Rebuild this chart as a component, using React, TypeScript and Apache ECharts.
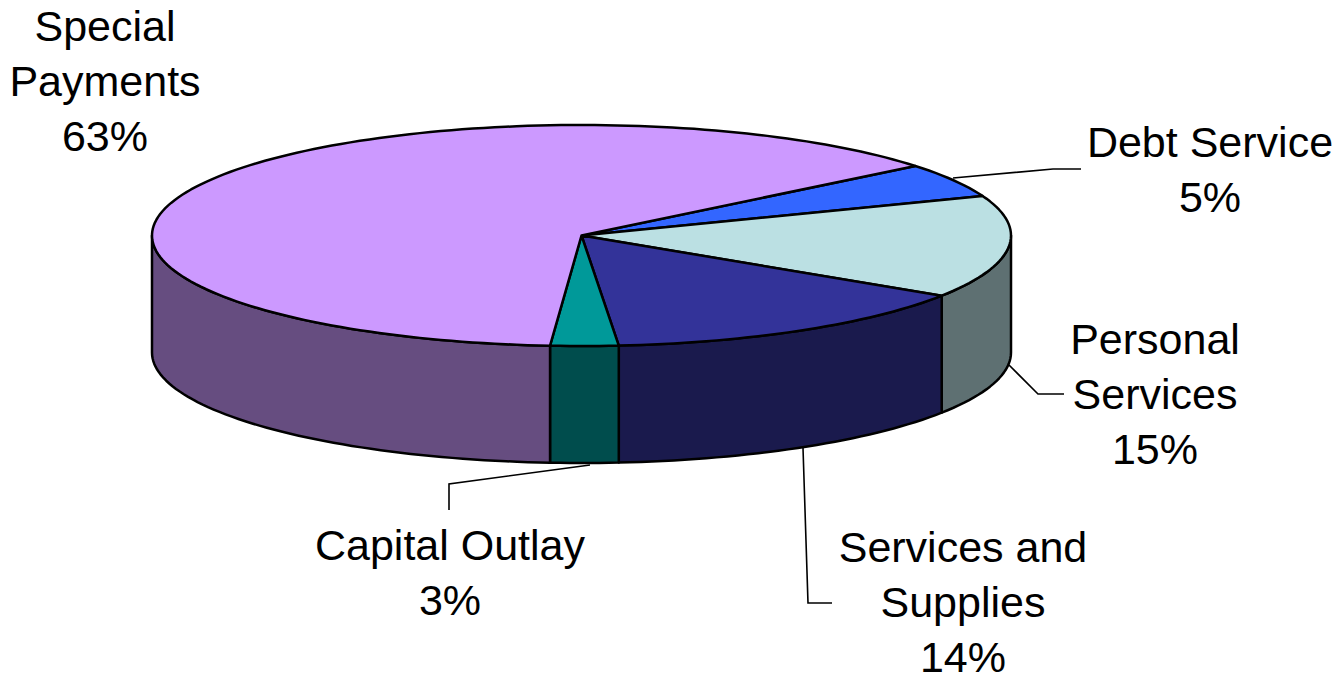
import React, { useEffect, useRef } from "react";
import * as echarts from "echarts";

const categories = ["Debt Service", "Personal Services", "Services and Supplies", "Capital Outlay", "Special Payments"];
const categoryLines = [["Debt Service"], ["Personal", "Services"], ["Services and", "Supplies"], ["Capital Outlay"], ["Special", "Payments"]];
const shares = [5, 15, 14.45, 2.55, 63];
const topColors = ["#3366FF", "#BBE0E3", "#333399", "#009999", "#CC99FF"];
const sideColors = ["#1A3380", "#5E7072", "#1A1A4D", "#004D4D", "#664D80"];

// Layout of the tilted pie
const CX = 581.5, CY = 235.5, RX = 429.5, RY = 110.5, DEPTH = 117, START_DEG = 39;
const labelCenters = [[1210, 142], [1155, 339], [963, 547], [450, 545], [105, 26]];
const LINE_HEIGHT = 55, FONT_SIZE = 43;
const leaderLines = [
  [[953, 178], [1053, 169], [1081, 169]],
  [[1009, 365], [1038, 394], [1064, 394]],
  [[803, 448], [808, 603], [832, 603]],
  [[590, 465], [449, 484], [449, 510]],
];

const rad = (d: number) => (d * Math.PI) / 180;
const pt = (deg: number, dy = 0): number[] => [CX + RX * Math.cos(rad(deg)), CY - RY * Math.sin(rad(deg)) + dy];
const arc = (from: number, to: number, dy = 0): number[][] => {
  const n = Math.max(2, Math.ceil(Math.abs(to - from) / 1.5));
  const out: number[][] = [];
  for (let i = 0; i <= n; i++) out.push(pt(from + ((to - from) * i) / n, dy));
  return out;
};

const total = shares.reduce((a, b) => a + b, 0);
const spans = shares.map((v, i) => {
  const before = shares.slice(0, i).reduce((a, b) => a + b, 0);
  return [START_DEG - (before / total) * 360, START_DEG - ((before + v) / total) * 360];
});

const edge = { stroke: "#000", lineWidth: 2.5, lineJoin: "round" as const };

const renderWall = (params: any) => {
  const i = params.dataIndex;
  const [a, b] = spans[i];
  const ranges = [[-180, 0], [-540, -360]];
  const children: any[] = [];
  ranges.forEach(([lo, hi]) => {
    const to = Math.min(a, hi), from = Math.max(b, lo);
    if (to > from) {
      children.push({
        type: "polygon",
        shape: { points: [...arc(to, from), ...arc(from, to, DEPTH)] },
        style: { fill: sideColors[i], ...edge },
      });
    }
  });
  return { type: "group", children };
};

const renderTop = (params: any) => {
  const i = params.dataIndex;
  const [a, b] = spans[i];
  const lines = [...categoryLines[i], `${Math.round(shares[i])}%`];
  const [lx, ly] = labelCenters[i];
  const children: any[] = [
    {
      type: "polygon",
      shape: { points: [[CX, CY], ...arc(a, b)] },
      style: { fill: topColors[i], ...edge },
    },
    ...lines.map((t, k) => ({
      type: "text",
      style: {
        text: t,
        x: lx,
        y: ly + k * LINE_HEIGHT,
        fill: "#000",
        font: `${FONT_SIZE}px "Liberation Sans", Arial, sans-serif`,
        textAlign: "center",
        textVerticalAlign: "middle",
      },
    })),
  ];
  if (leaderLines[i]) {
    children.push({
      type: "polyline",
      shape: { points: leaderLines[i] },
      style: { fill: "none", stroke: "#000", lineWidth: 1.6 },
    });
  }
  return { type: "group", children };
};

export default function App() {
  const ref = useRef<HTMLDivElement>(null);
  useEffect(() => {
    document.body.style.margin = "0";
    document.body.style.background = "#fff";
    const chart = echarts.init(ref.current!, null, { renderer: "svg" });
    const data = categories.map((name, i) => ({ name, value: shares[i] }));
    chart.setOption({
      animation: false,
      backgroundColor: "#fff",
      series: [
        { type: "custom", coordinateSystem: "none", silent: true, z: 1, data, renderItem: renderWall },
        { type: "custom", coordinateSystem: "none", silent: true, z: 2, data, renderItem: renderTop },
      ],
    });
    return () => chart.dispose();
  }, []);
  return <div ref={ref} style={{ width: 1340, height: 674 }} />;
}
